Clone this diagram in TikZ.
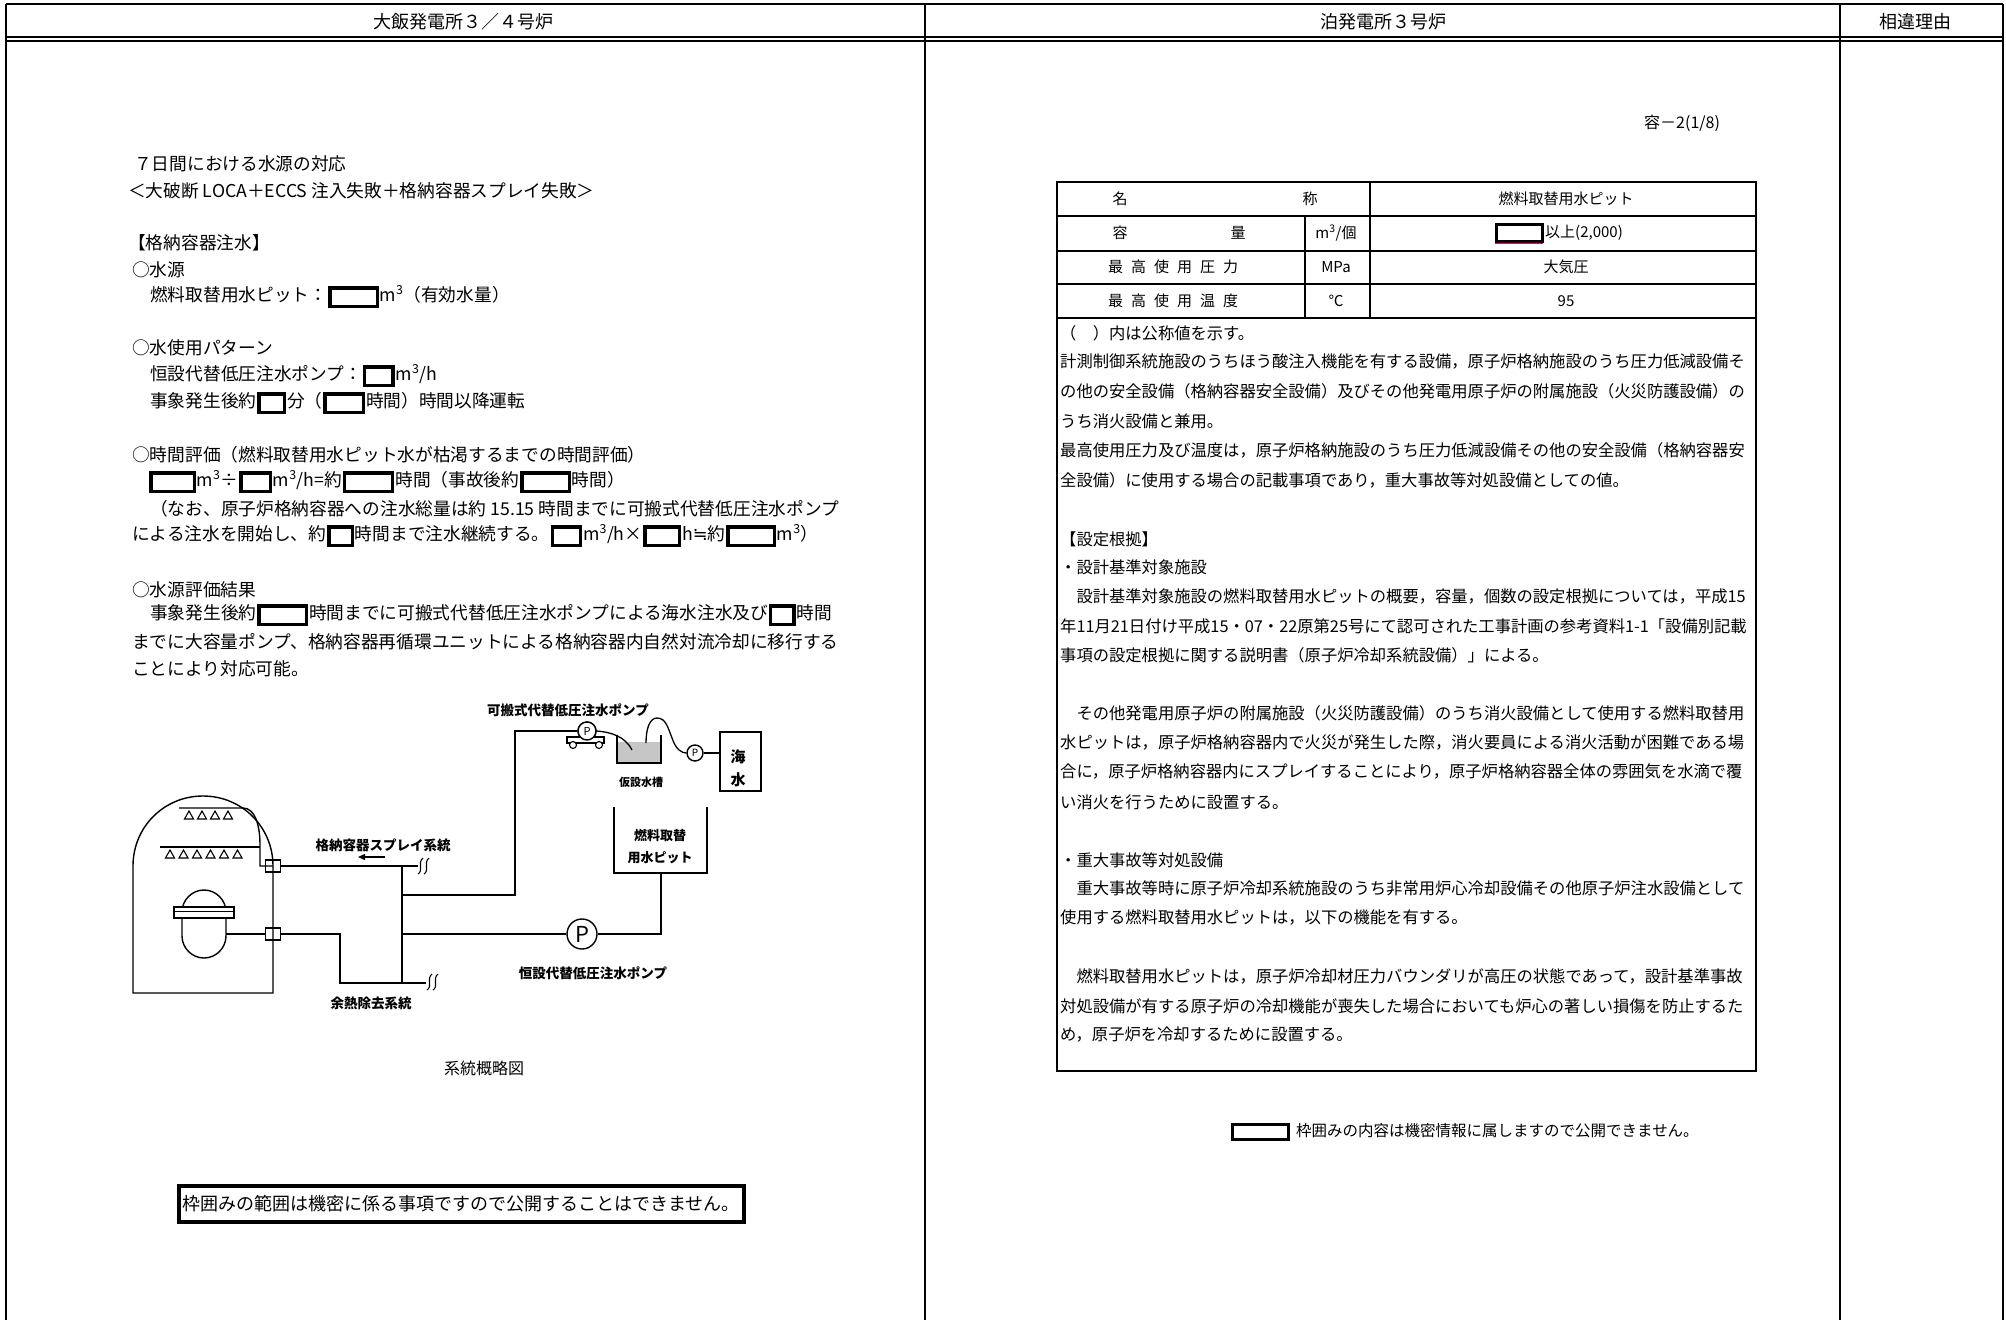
\documentclass[tikz,border=0pt]{standalone}
\usepackage{fontspec}
\setmainfont{Noto Sans CJK JP}
\newfontfamily\djv{DejaVu Sans}
\usetikzlibrary{arrows.meta}
\newcommand\kbox[1]{\kern1pt\raisebox{-3.5pt}{\fboxsep=0pt\fboxrule=3.3pt\fbox{\rule{0pt}{15pt}\rule{#1}{0pt}}}\kern1pt}
\newcommand\ks{\kern8pt}
\newcommand\fsz[1]{\fontsize{#1}{#1}\selectfont}
\newcommand\cube{\textsuperscript{3}}
\begin{document}
\begin{tikzpicture}[x=1pt,y=-1pt,
  lt/.style={anchor=west,inner sep=0pt,font=\fsz{17.7}},
  rt/.style={anchor=west,inner sep=0pt,font=\fsz{16.3}},
  tb/.style={inner sep=0pt,font=\fsz{15}},
  hd/.style={inner sep=0pt,font=\fsz{18}},
  lbl/.style={inner sep=0pt,font=\fsz{13.5}\bfseries},
  pipe/.style={line width=1.4pt},
  frame/.style={line width=1.5pt},
  pump/.style={circle,draw,line width=1.4pt,inner sep=0pt,fill=white}]
\useasboundingbox (0,0) rectangle (2006,1320);
\fill[white] (0,0) rectangle (2006,1320);
% ---------- page frame ----------
\draw[line width=2.5pt] (6,4) -- (2003,4);
\draw[line width=1.2pt] (6,37) -- (2003,37) (6,41) -- (2003,41);
\draw[frame] (6,4) -- (6,1320) (925,4) -- (925,1320) (1840,4) -- (1840,1320) (2003,4) -- (2003,1320);
\node[hd] (h1) at (463,22) {大飯発電所３／４号炉};
\node[hd] (h2) at (1383,22) {泊発電所３号炉};
\node[hd] (h3) at (1915,22) {相違理由};
% ---------- left text ----------
\node[lt] (l1) at (134,164) {７日間における水源の対応};
\node[lt] (l2) at (128,191) {＜大破断 LOCA＋ECCS 注入失敗＋格納容器スプレイ失敗＞};
\node[lt] (l3) at (128,243) {【格納容器注水】};
\node[lt] (l4) at (132,270) {○水源};
\node[lt] (l5) at (150,297) {燃料取替用水ピット：\kbox{44pt}m\cube（有効水量）};
\node[lt] (l6) at (132,348) {○水使用パターン};
\node[lt] (l7) at (150,376) {恒設代替低圧注水ポンプ：\kbox{25pt}m\cube/h};
\node[lt] (l8) at (150,403) {事象発生後約\kbox{22pt}分（\kbox{35pt}時間）時間以降運転};
\node[lt] (l9) at (132,455) {○時間評価（燃料取替用水ピット水が枯渇するまでの時間評価）};
\node[lt] (l10) at (148,482) {\kbox{40pt}m\cube÷\kbox{26pt}m\cube/h=約\kbox{45pt}時間（事故後約\kbox{44pt}時間）};
\node[lt] (l11) at (150,509) {（なお、原子炉格納容器への注水総量は約 15.15 時間までに可搬式代替低圧注水ポンプ};
\node[lt] (l12) at (132,536) {による注水を開始し、約\kbox{20pt}時間まで注水継続する。\kbox{25pt}m\cube/h×\kbox{31pt}h{\djv ≒}約\kbox{43pt}m\cube）};
\node[lt] (l13) at (132,590) {○水源評価結果};
\node[lt] (l14) at (150,615) {事象発生後約\kbox{44pt}時間までに可搬式代替低圧注水ポンプによる海水注水及び\kbox{20pt}時間};
\node[lt] (l15) at (132,642) {までに大容量ポンプ、格納容器再循環ユニットによる格納容器内自然対流冷却に移行する};
\node[lt] (l16) at (132,669) {ことにより対応可能。};
% ---------- schematic ----------
% containment
\draw[pipe] (133,993) -- (133,866) .. controls (133,827) and (164,796) .. (203,796)
  .. controls (242,796) and (273,827) .. (273,866) -- (273,993) -- cycle;
% spray headers
\draw[pipe] (179,808) -- (243,808) .. controls (255,808) and (260,825) .. (260,845) -- (260,866) -- (273,866);
\draw[pipe] (160,847) -- (260,847);
\foreach \i in {0,...,3} \draw[line width=1.1pt] ({189+13*\i},811) -- ({184.5+13*\i},819) -- ({193.5+13*\i},819) -- cycle;
\foreach \i in {0,...,5} \draw[line width=1.1pt] ({170+13.5*\i},850) -- ({165.5+13.5*\i},858) -- ({174.5+13.5*\i},858) -- cycle;
% reactor vessel
\draw[pipe] (182,912) -- (182,936) .. controls (182,948) and (192,958) .. (204,958)
  .. controls (216,958) and (226,948) .. (226,936) -- (226,912)
  .. controls (226,900) and (216,890) .. (204,890) .. controls (192,890) and (182,900) .. (182,912);
\draw[pipe,fill=white] (174,907) rectangle (234,918);
\draw[line width=1pt] (174,911) -- (234,911);
% penetrations
\node[draw,line width=1.2pt,minimum width=15pt,minimum height=12pt,inner sep=0pt] (pen1) at (273,866) {};
\node[draw,line width=1.2pt,minimum width=15pt,minimum height=12pt,inner sep=0pt] (pen2) at (273,934) {};
% pumps and tanks
\node[pump,minimum size=30pt,font=\fsz{22}] (bp) at (582,934) {P};
\node[pump,minimum size=18pt,font=\fsz{11}] (pp) at (587,731) {P};
\node[pump,minimum size=16pt,font=\fsz{10}] (sp) at (695,753) {P};
\coordinate (spraybrk) at (418,866);
\coordinate (rhrbrk) at (426,983);
\coordinate (j1) at (402,866);
\coordinate (j2) at (402,895);
\coordinate (j3) at (402,934);
\coordinate (j4) at (402,983);
\coordinate (pitb) at (661,873);
\draw[pipe] (pen1.east) -- (j1) -- (spraybrk);
\draw[pipe] (226,934) -- (pen2.west) (pen2.east) -- (340,934) -- (340,983) -- (rhrbrk);
\draw[pipe] (j1) -- (j4);
\draw[pipe] (j2) -- (515,895) -- (515,731) -- (pp.west);
\draw[pipe] (j3) -- (bp.west);
\draw[pipe] (bp.east) -- (661,934) -- (pitb);
% pit
\draw[pipe] (614,807) -- (614,873) -- (707,873) -- (707,807);
\node[inner sep=0pt,font=\fsz{13}\bfseries] (pit1) at (660,836) {燃料取替};
\node[inner sep=0pt,font=\fsz{13}\bfseries] (pit2) at (660,858) {用水ピット};
% breaks
\foreach \dx in {0,6} {
  \draw[line width=1.1pt] ({418+\dx},874) .. controls ({424+\dx},870) and ({417+\dx},863) .. ({423+\dx},858);
  \draw[line width=1.1pt] ({427+\dx},990) .. controls ({433+\dx},986) and ({426+\dx},979) .. ({432+\dx},974);
}
% cart
\draw[line width=1.2pt,fill=white] (567,737) rectangle (604,743);
\node[circle,draw,line width=1.1pt,fill=white,inner sep=0pt,minimum size=7pt] (w1) at (573,745) {};
\node[circle,draw,line width=1.1pt,fill=white,inner sep=0pt,minimum size=7pt] (w2) at (599,745) {};
\node[pump,minimum size=18pt,font=\fsz{11}] (pp2) at (587,731) {P};
% temporary tank
\fill[gray!45] (617,742) rectangle (661,763);
\draw[line width=1.2pt] (617,735) -- (617,763) -- (661,763) -- (661,735);
\draw[line width=1.3pt] (pp2.east) .. controls (610,732) and (625,736) .. (632,750);
\draw[line width=1.3pt] (646,743) .. controls (646,728) and (650,718) .. (657,718)
  .. controls (666,718) and (668,728) .. (672,738) .. controls (676,750) and (682,753) .. (sp.west);
% sea water
\node[draw,line width=1.3pt,minimum width=41pt,minimum height=59pt,inner sep=0pt] (sea) at (740.5,761.5) {};
\node[inner sep=0pt,font=\fsz{15}\bfseries] (sea1) at (738,757) {海};
\node[inner sep=0pt,font=\fsz{15}\bfseries] (sea2) at (738,780) {水};
\draw[pipe] (sp.east) -- (sea.west |- sp.east);
% labels
\node[lbl] (lb1) at (568,710) {可搬式代替低圧注水ポンプ};
\node[inner sep=0pt,font=\fsz{11}\bfseries] (lb2) at (641,782) {仮設水槽};
\node[lbl] (lb3) at (383,845) {格納容器スプレイ系統};
\node[lbl] (lb4) at (371,1003) {余熱除去系統};
\node[lbl] (lb5) at (593,973) {恒設代替低圧注水ポンプ};
\coordinate (ar1) at (385,857);
\coordinate (ar2) at (358,857);
\draw[line width=1.4pt,-{Triangle[length=7pt,width=6pt]}] (ar1) -- (ar2);
\node[inner sep=0pt,font=\fsz{16}] (cap) at (484,1068) {系統概略図};
% confidentiality box (left)
\node[draw,line width=4pt,minimum width=565pt,minimum height=36pt,inner sep=0pt,font=\fsz{18}] (conf1) at (461,1204) {枠囲みの範囲は機密に係る事項ですので公開することはできません。};
% ---------- right column ----------
\node[anchor=west,inner sep=0pt,font=\fsz{16}] (pg) at (1644,123) {容－2(1/8)};
\draw[frame] (1057,182) rectangle (1756,1071);
\draw[frame] (1057,216) -- (1756,216) (1057,251) -- (1756,251) (1057,284) -- (1756,284) (1057,318) -- (1756,318);
\draw[frame] (1370,182) -- (1370,318) (1305,216) -- (1305,318);
\node[tb] (t11) at (1120,199) {名};
\node[tb] (t12) at (1310,199) {称};
\node[tb] (t13) at (1566,199) {燃料取替用水ピット};
\node[tb] (t21) at (1120,233) {容};
\node[tb] (t22) at (1238,233) {量};
\node[tb] (t23) at (1336,233) {m\cube/個};
\draw[line width=3pt] (1496,224) rectangle (1542,241);
\draw[magenta,line width=1pt] (1495,243) -- (1543,243);
\node[tb,anchor=west] (t24) at (1545,233) {以上(2,000)};
\node[tb] (t31) at (1173,267) {最\ks 高\ks 使\ks 用\ks 圧\ks 力};
\node[tb] (t32) at (1336,267) {MPa};
\node[tb] (t33) at (1566,267) {大気圧};
\node[tb] (t41) at (1173,301) {最\ks 高\ks 使\ks 用\ks 温\ks 度};
\node[tb] (t42) at (1336,301) {℃};
\node[tb] (t43) at (1566,301) {95};
\node[rt] (r1) at (1060,333) {（　）内は公称値を示す。};
\node[rt] (r2) at (1060,362) {計測制御系統施設のうちほう酸注入機能を有する設備，原子炉格納施設のうち圧力低減設備そ};
\node[rt] (r3) at (1060,391) {の他の安全設備（格納容器安全設備）及びその他発電用原子炉の附属施設（火災防護設備）の};
\node[rt] (r4) at (1060,421) {うち消火設備と兼用。};
\node[rt] (r5) at (1060,450) {最高使用圧力及び温度は，原子炉格納施設のうち圧力低減設備その他の安全設備（格納容器安};
\node[rt] (r6) at (1060,480) {全設備）に使用する場合の記載事項であり，重大事故等対処設備としての値。};
\node[rt] (r7) at (1060,539) {【設定根拠】};
\node[rt] (r8) at (1060,567) {・設計基準対象施設};
\node[rt] (r9) at (1060,596) {　設計基準対象施設の燃料取替用水ピットの概要，容量，個数の設定根拠については，平成15};
\node[rt] (r10) at (1060,626) {年11月21日付け平成15・07・22原第25号にて認可された工事計画の参考資料1-1「設備別記載};
\node[rt] (r11) at (1060,655) {事項の設定根拠に関する説明書（原子炉冷却系統設備）」による。};
\node[rt] (r12) at (1060,713) {　その他発電用原子炉の附属施設（火災防護設備）のうち消火設備として使用する燃料取替用};
\node[rt] (r13) at (1060,742) {水ピットは，原子炉格納容器内で火災が発生した際，消火要員による消火活動が困難である場};
\node[rt] (r14) at (1060,771) {合に，原子炉格納容器内にスプレイすることにより，原子炉格納容器全体の雰囲気を水滴で覆};
\node[rt] (r15) at (1060,802) {い消火を行うために設置する。};
\node[rt] (r16) at (1060,860) {・重大事故等対処設備};
\node[rt] (r17) at (1060,888) {　重大事故等時に原子炉冷却系統施設のうち非常用炉心冷却設備その他原子炉注水設備として};
\node[rt] (r18) at (1060,917) {使用する燃料取替用水ピットは，以下の機能を有する。};
\node[rt] (r19) at (1060,976) {　燃料取替用水ピットは，原子炉冷却材圧力バウンダリが高圧の状態であって，設計基準事故};
\node[rt] (r20) at (1060,1006) {対処設備が有する原子炉の冷却機能が喪失した場合においても炉心の著しい損傷を防止するた};
\node[rt] (r21) at (1060,1035) {め，原子炉を冷却するために設置する。};
% confidentiality note (right)
\draw[line width=3pt] (1232,1124) rectangle (1288,1139);
\node[anchor=west,inner sep=0pt,font=\fsz{15.5}] (conf2) at (1296,1131) {枠囲みの内容は機密情報に属しますので公開できません。};
\end{tikzpicture}
\end{document}
